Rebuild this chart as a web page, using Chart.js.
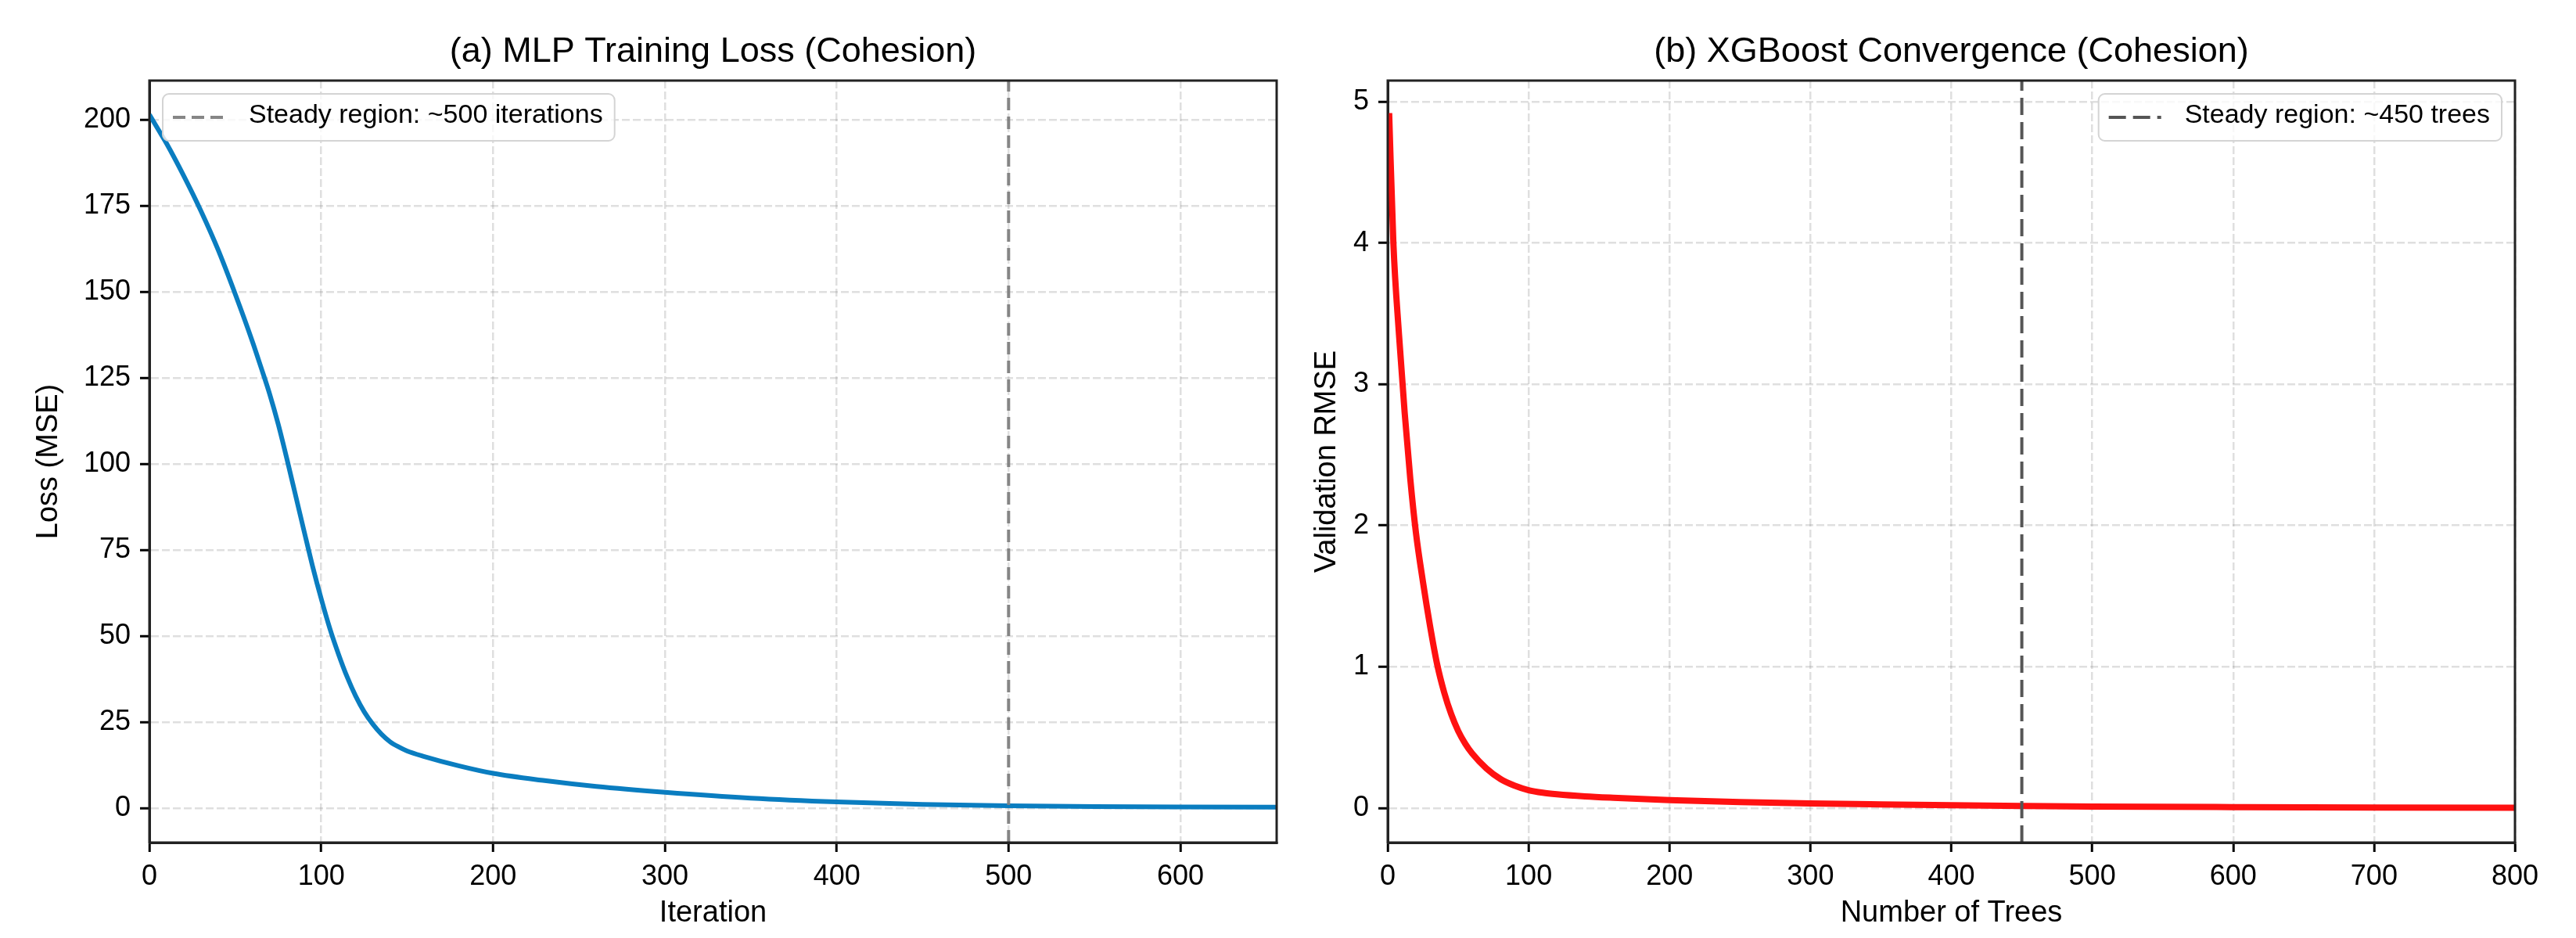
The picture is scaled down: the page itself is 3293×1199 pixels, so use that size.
<!DOCTYPE html>
<html>
<head>
<meta charset="utf-8">
<script src="https://cdn.jsdelivr.net/npm/chart.js@4.4.1/dist/chart.umd.min.js"></script>
<style>
  html, body { margin: 0; padding: 0; background: #fff; }
  #wrap { position: relative; width: 3293px; height: 1199px; }
  canvas { position: absolute; top: 0; }
  #mlpChart { left: 0; }
  #xgbChart { left: 1650px; }
</style>
</head>
<body>
<div id="wrap">
  <canvas id="mlpChart" width="1650" height="1199"></canvas>
  <canvas id="xgbChart" width="1643" height="1199"></canvas>
</div>
<script>
// (a) MLP training loss
const mlpIter = [0, 5, 10, 20, 30, 40, 50, 60, 65, 70, 75, 80, 85, 90, 95, 100, 105, 110, 115, 120, 125, 130, 135, 140, 145, 150, 160, 180, 200, 230, 260, 300, 350, 400, 450, 500, 550, 600, 656];
const mlpLoss = [201.5, 197.3, 193.1, 183.7, 173.5, 162.2, 149.3, 135.5, 128.0, 120.3, 111.5, 101.5, 91.0, 80.5, 70.2, 60.8, 52.2, 44.8, 38.2, 32.6, 28.0, 24.4, 21.5, 19.3, 17.8, 16.6, 15.0, 12.3, 10.1, 8.0, 6.3, 4.6, 2.9, 1.8, 1.1, 0.7, 0.45, 0.35, 0.3];
const mlpXTicks = [0, 100, 200, 300, 400, 500, 600];
const mlpYTicks = [0, 25, 50, 75, 100, 125, 150, 175, 200];
const mlpSteady = 500;

// (b) XGBoost validation RMSE
const xgbTrees = [1, 4, 8, 12, 16, 20, 25, 30, 35, 40, 45, 50, 55, 60, 70, 80, 90, 100, 110, 120, 140, 160, 200, 250, 300, 350, 400, 450, 500, 600, 700, 800];
const xgbRmse = [4.92, 4.0, 3.35, 2.8, 2.33, 1.95, 1.6, 1.29, 1.02, 0.82, 0.665, 0.545, 0.455, 0.385, 0.28, 0.205, 0.158, 0.126, 0.108, 0.097, 0.082, 0.072, 0.056, 0.042, 0.032, 0.025, 0.019, 0.014, 0.010, 0.006, 0.003, 0.001];
const xgbXTicks = [0, 100, 200, 300, 400, 500, 600, 700, 800];
const xgbYTicks = [0, 1, 2, 3, 4, 5];
const xgbSteady = 450;

const FONT = '"Liberation Sans", Arial, Helvetica, sans-serif';
const GRID = "rgba(128,128,128,0.25)";
Chart.defaults.font.family = FONT;
Chart.defaults.color = "#000";

// axes frame + inline legend for the steady-region line
const framePlugin = {
  id: "frame",
  afterDraw(chart, args, opts) {
    const { ctx, chartArea: a } = chart;
    ctx.save();
    ctx.strokeStyle = "#222";
    ctx.lineWidth = 3;
    ctx.strokeRect(a.left, a.top, a.right - a.left, a.bottom - a.top);

    const ds = chart.data.datasets[0];
    ctx.font = "34px " + FONT;
    const tw = ctx.measureText(ds.label).width;
    const w = 13 + 67 + 30 + tw + 15;
    const h = 60;
    const x = opts.side === "left" ? a.left + 17 : a.right - 17 - w;
    const y = a.top + 17;
    ctx.beginPath();
    ctx.roundRect(x, y, w, h, 8);
    ctx.fillStyle = "rgba(255,255,255,0.8)";
    ctx.fill();
    ctx.strokeStyle = "#d4d4d4";
    ctx.lineWidth = 2;
    ctx.stroke();

    ctx.beginPath();
    ctx.setLineDash(ds.borderDash);
    ctx.strokeStyle = ds.borderColor;
    ctx.lineWidth = ds.borderWidth;
    ctx.moveTo(x + 13, y + h / 2);
    ctx.lineTo(x + 80, y + h / 2);
    ctx.stroke();
    ctx.setLineDash([]);

    ctx.fillStyle = "#000";
    ctx.textAlign = "left";
    ctx.textBaseline = "middle";
    ctx.fillText(ds.label, x + 110, y + h / 2 - 2);
    ctx.restore();
  },
};

function makeChart(id, c) {
  const points = c.xs.map((v, i) => ({ x: v, y: c.ys[i] }));
  return new Chart(document.getElementById(id), {
    type: "line",
    data: {
      datasets: [
        {
          label: c.legend,
          data: [
            { x: c.steady, y: c.yMin },
            { x: c.steady, y: c.yMax },
          ],
          borderColor: c.steadyColor,
          borderWidth: 4,
          borderDash: c.steadyDash,
          pointRadius: 0,
        },
        {
          label: "curve",
          data: points,
          borderColor: c.color,
          borderWidth: c.width,
          pointRadius: 0,
          cubicInterpolationMode: "monotone",
        },
      ],
    },
    options: {
      responsive: false,
      animation: false,
      layout: { padding: { left: 0, right: c.padRight, top: 0, bottom: 0 } },
      plugins: {
        legend: { display: false },
        tooltip: { enabled: false },
        title: {
          display: true,
          text: c.title,
          fullSize: false,
          font: { size: 45, weight: "normal" },
          color: "#000",
          padding: { top: 40, bottom: 9 },
        },
        frame: { side: c.legendSide },
      },
      scales: {
        x: {
          type: "linear",
          min: 0,
          max: c.xMax,
          afterBuildTicks: (s) => { s.ticks = c.xTicks.map((v) => ({ value: v })); },
          afterFit: (s) => { s.height = 122; },
          ticks: { font: { size: 36 }, color: "#000", padding: 10, maxRotation: 0, autoSkip: false },
          grid: { color: GRID, lineWidth: 2.5, tickLength: 12, tickWidth: 3, tickColor: "#000" },
          border: { display: true, color: "#222", width: 3, dash: [10, 4] },
          title: { display: true, text: c.xTitle, font: { size: 38 }, color: "#000", padding: { top: 0, bottom: 9 } },
        },
        y: {
          type: "linear",
          min: c.yMin,
          max: c.yMax,
          afterBuildTicks: (s) => { s.ticks = c.yTicks.map((v) => ({ value: v })); },
          afterFit: (s) => { s.width = c.yAxisW; },
          ticks: { font: { size: 36 }, color: "#000", padding: 12, autoSkip: false },
          grid: { color: GRID, lineWidth: 2.5, tickLength: 12, tickWidth: 3, tickColor: "#000" },
          border: { display: true, color: "#222", width: 3, dash: [10, 4] },
          title: { display: true, text: c.yTitle, font: { size: 38 }, color: "#000", padding: { top: c.yTitlePad, bottom: 0 } },
        },
      },
    },
    plugins: [framePlugin],
  });
}

makeChart("mlpChart", {
  xs: mlpIter, ys: mlpLoss,
  xTicks: mlpXTicks, yTicks: mlpYTicks,
  xMax: 656, yMin: -10, yMax: 211.4,
  steady: mlpSteady,
  legend: "Steady region: ~500 iterations",
  legendSide: "left",
  steadyColor: "rgba(128,128,128,0.95)",
  steadyDash: [16, 8],
  color: "#0a7dc0", width: 6,
  title: "(a) MLP Training Loss (Cohesion)",
  xTitle: "Iteration", yTitle: "Loss (MSE)",
  yAxisW: 191, yTitlePad: 40, padRight: 18,
});

makeChart("xgbChart", {
  xs: xgbTrees, ys: xgbRmse,
  xTicks: xgbXTicks, yTicks: xgbYTicks,
  xMax: 800, yMin: -0.245, yMax: 5.15,
  steady: xgbSteady,
  legend: "Steady region: ~450 trees",
  legendSide: "right",
  steadyColor: "#555555",
  steadyDash: [22, 9],
  color: "#ff1111", width: 8,
  title: "(b) XGBoost Convergence (Cohesion)",
  xTitle: "Number of Trees", yTitle: "Validation RMSE",
  yAxisW: 124, yTitlePad: 24, padRight: 78,
});
</script>
</body>
</html>
